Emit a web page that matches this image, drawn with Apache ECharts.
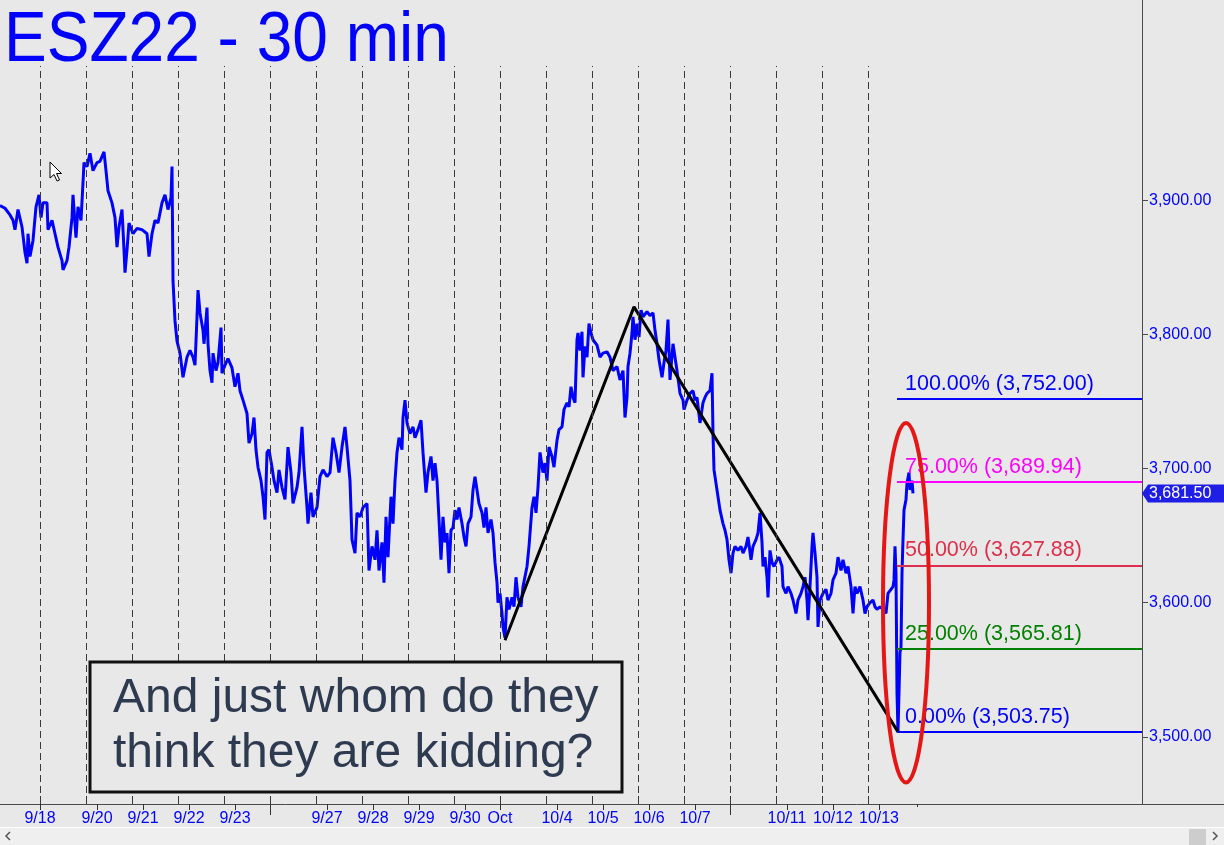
<!DOCTYPE html>
<html>
<head>
<meta charset="utf-8">
<script src="https://cdn.jsdelivr.net/npm/echarts@6/dist/echarts.min.js"></script>
<style>
html,body{margin:0;padding:0;background:#e8e8e8;}
#c{width:1224px;height:845px;}
</style>
</head>
<body>
<div id="c"></div>
<script>
// ---- Data (bar index = 30-min bar count from chart start, price) ----
const wk0918 = [[0,3896],[5,3894],[10,3889],[13,3885],[15,3878],[18,3893],[22,3880],[25,3861],[27,3853],[28,3875],[30,3858],[33,3870],[36,3895],[39,3904],[41,3887],[43,3898],[47,3898],[48,3878],[52,3885],[55,3875],[58,3865],[62,3855],[63,3848],[67,3855],[69,3865],[72,3887],[73,3904],[76,3872],[78,3895],[81,3885],[83,3913],[84,3928],[87,3925],[90,3935],[93,3922],[97,3928],[100,3929],[104,3936],[106,3922],[108,3907],[112,3898],[115,3887],[117,3865],[119,3880],[122,3893],[124,3863],[125,3846],[127,3863],[129,3883],[133,3875],[137,3879],[142,3878],[147,3875],[149,3858],[152,3875],[155,3885],[158,3883],[162,3898],[165,3904],[168,3893],[171,3902],[172,3925],[173,3840],[175,3810],[177,3795],[180,3786],[183,3768],[187,3783],[190,3788],[193,3783],[195,3777],[197,3813],[198,3833],[200,3816],[203,3803],[204,3793],[207,3820],[208,3793],[210,3773],[212,3764],[213,3786],[216,3773],[218,3779],[221,3805],[222,3771],[225,3777],[228,3782],[232,3775],[235,3761],[238,3771],[240,3758],[243,3751],[247,3741],[249,3719],[252,3726],[254,3738],[256,3714],[258,3701],[261,3691],[263,3679],[265,3662],[267,3712],[269,3714]];
const wk0925 = [[272,3701],[274,3691],[277,3682],[279,3699],[282,3686],[285,3677],[288,3716],[291,3697],[293,3674],[297,3686],[299,3697],[302,3731],[304,3701],[307,3671],[308,3659],[311,3682],[313,3664],[317,3671],[320,3694],[323,3699],[327,3694],[330,3697],[333,3723],[336,3712],[339,3697],[342,3716],[345,3731],[347,3716],[350,3691],[352,3647],[355,3637],[357,3667],[360,3664],[363,3671],[367,3674],[369,3624],[372,3642],[375,3632],[377,3654],[379,3624],[382,3645],[384,3615],[386,3664],[388,3634],[391,3679],[393,3659],[395,3691],[397,3712],[399,3723],[402,3714],[403,3738],[405,3751],[407,3734],[410,3726],[413,3731],[415,3723],[418,3729],[421,3736],[423,3712],[426,3682],[428,3697],[431,3709],[433,3691],[435,3704],[437,3691],[439,3662],[441,3632],[443,3664],[445,3645],[447,3652],[449,3622],[451,3654],[453,3656],[455,3669],[457,3662],[459,3671],[462,3659],[464,3649],[466,3642],[468,3659],[471,3664],[473,3684],[475,3694],[477,3684],[479,3674],[482,3667],[484,3656],[486,3671],[488,3652],[491,3662],[493,3652],[495,3630],[497,3615],[498,3600],[500,3607]];
const wk1002 = [[502,3592],[503,3582],[505,3574],[507,3604],[509,3595],[512,3604],[514,3597],[516,3619],[518,3604],[521,3597],[523,3612],[527,3627],[529,3642],[532,3671],[534,3679],[536,3667],[538,3686],[540,3712],[543,3697],[545,3704],[547,3691],[549,3716],[552,3709],[554,3701],[557,3721],[559,3729],[562,3731],[564,3744],[567,3749],[569,3746],[571,3761],[573,3753],[575,3749],[577,3796],[578,3801],[580,3788],[582,3802],[583,3768],[585,3791],[587,3783],[589,3808],[591,3801],[593,3796],[597,3792],[600,3783],[603,3786],[607,3787],[610,3783],[613,3773],[617,3776],[620,3766],[623,3773],[625,3738],[627,3753],[628,3776],[630,3786],[632,3801],[633,3813],[635,3796],[637,3808],[639,3798],[641,3818],[643,3813],[647,3817],[650,3814],[653,3816],[655,3803],[657,3793],[659,3781],[662,3768],[664,3779],[666,3788],[668,3811],[670,3766],[673,3793],[675,3783],[677,3773],[680,3756],[683,3751],[684,3744],[687,3751],[690,3756],[693,3758],[695,3751],[697,3753],[700,3734],[703,3749],[705,3753],[707,3756],[710,3758],[712,3771],[713,3726],[714,3699],[717,3684],[720,3669],[723,3659],[725,3654],[727,3647],[729,3632]];
const wk1009 = [[731,3622],[733,3637],[735,3642],[738,3639],[741,3642],[743,3637],[746,3642],[748,3649],[751,3632],[753,3642],[756,3647],[758,3652],[760,3667],[762,3645],[763,3627],[765,3634],[767,3619],[768,3604],[770,3639],[772,3630],[774,3627],[777,3632],[779,3634],[782,3627],[783,3612],[786,3607],[788,3612],[791,3607],[793,3602],[796,3592],[798,3602],[801,3607],[803,3612],[805,3619],[807,3602],[808,3587],[810,3612],[812,3642],[813,3652],[815,3637],[817,3619],[818,3582],[820,3602],[823,3607],[826,3610],[828,3602],[831,3607],[833,3617],[836,3622],[838,3634],[841,3624],[843,3632],[846,3622],[848,3627],[851,3612],[853,3592],[855,3612],[857,3607],[860,3612],[863,3602],[865,3592],[867,3597],[870,3600],[873,3602],[875,3597],[877,3595],[880,3597],[883,3595],[886,3592],[888,3607],[891,3610],[893,3612],[894,3617],[895,3642],[896,3622],[897,3533],[898,3503.75],[899,3533],[900,3563],[901,3567],[902,3622],[903,3647],[904,3669],[906,3677],[907,3689],[909,3697],[910,3684],[912,3691],[913,3681.5]];

// ABC trend line pivots
const trendPoints = [[505,3572],[634,3820.5],[898,3503.75]];

// Fibonacci levels
const fibPct = ['100.00%','75.00%','50.00%','25.00%','0.00%'];
const fibValues = [3752.00, 3689.94, 3627.88, 3565.81, 3503.75];
const fibStartBar = 897;

// Axis ticks / labels
const sessionStarts = [40.5,86.5,132.5,178.5,224.5,270.5,316.5,362.5,408.5,454.5,500.5,546.5,592.5,638.5,684.5,730.5,776.5,822.5,868.5];
const dateTickPos = [40,97,143,189,235,327,373,419,465,500,557,603,649,695,787,833,879];
const dateTickText = ['9/18','9/20','9/21','9/22','9/23','9/27','9/28','9/29','9/30','Oct','10/4','10/5','10/6','10/7','10/11','10/12','10/13'];
const weekendTicks = [270.5, 730.5];
const pendingTicks = [917];
const yTicks = [3500,3600,3700,3800,3900];

// ---- Styles ----
const FONT = '"Liberation Sans", Arial, sans-serif';
const BLUE = '#0000ff';
const fibColors = ['#0000ff','#ff00ff','#dc2f4a','#008000','#0000ff'];
const fmt = v => Number(v).toLocaleString('en-US',{minimumFractionDigits:2, maximumFractionDigits:2});
const price = [].concat(wk0918, wk0925, wk1002, wk1009);
const XMAX = 1142;

const chart = echarts.init(document.getElementById('c'), null, {renderer:'canvas'});

const baseX = {type:'value', min:0, max:XMAX, splitLine:{show:false}, axisLine:{show:false, onZero:false}, axisLabel:{show:false}, axisTick:{show:false}};

const option = {
  animation:false,
  backgroundColor:'#e8e8e8',
  grid:{left:0, right:82, top:66, bottom:41, containLabel:false, outerBoundsMode:'none'},
  xAxis:[
    Object.assign({}, baseX, {
      position:'bottom',
      axisLine:{show:true, onZero:false, lineStyle:{color:'#4a4a4a', width:1}},
      axisTick:{show:true, inside:true, length:8, customValues:sessionStarts, lineStyle:{color:'#333'}}
    }),
    Object.assign({}, baseX, {
      position:'bottom',
      axisTick:{show:true, length:6, customValues:dateTickPos, lineStyle:{color:'#333'}},
      axisLabel:{show:true, customValues:dateTickPos, hideOverlap:false,
        formatter: v => { const i = dateTickPos.indexOf(v); return i >= 0 ? dateTickText[i] : ''; },
        color:BLUE, fontSize:16, fontFamily:FONT, margin:7}
    }),
    Object.assign({}, baseX, {
      position:'bottom',
      axisTick:{show:true, length:11, customValues:weekendTicks, lineStyle:{color:'#333'}}
    }),
    Object.assign({}, baseX, {
      position:'bottom',
      axisTick:{show:true, length:3, customValues:pendingTicks, lineStyle:{color:'#333'}}
    })
  ],
  yAxis:{
    type:'value', position:'right', min:3450, max:4000, scale:true,
    splitLine:{show:false},
    axisLine:{show:true, onZero:false, lineStyle:{color:'#4a4a4a', width:1}},
    axisTick:{show:true, length:6, customValues:yTicks, lineStyle:{color:'#4a4a4a'}},
    axisLabel:{show:true, customValues:yTicks, formatter: v => fmt(v), color:BLUE, fontSize:16, fontFamily:FONT, margin:7, hideOverlap:false}
  },
  series:[
    {
      type:'line', data:[], z:1, silent:true,
      markLine:{silent:true, symbol:['none','none'], animation:false, label:{show:false},
        lineStyle:{type:[7,4], color:'#3a3a3a', width:1},
        emphasis:{disabled:true},
        data: sessionStarts.map(v => ({xAxis:v}))}
    },
    {
      type:'line', data:price, z:3, symbol:'none', showSymbol:false, silent:true,
      lineStyle:{color:BLUE, width:3}
    },
    {
      type:'line', data:trendPoints, z:4, symbol:'none', showSymbol:false, silent:true,
      lineStyle:{color:'#000', width:3}
    },
    {
      type:'line', data:[], z:5, silent:true,
      markLine:{silent:true, symbol:['none','none'], animation:false, emphasis:{disabled:true},
        data: fibValues.map((v,i) => [
          {coord:[fibStartBar, v], lineStyle:{color:fibColors[i], width:2, type:'solid'},
           label:{show:true, position:'insideStartTop', distance:[8,4], formatter: fibPct[i] + ' (' + fmt(v) + ')',
                  color:fibColors[i], fontSize:21.5, fontFamily:FONT}},
          {coord:[XMAX, v]}
        ])}
    }
  ]
};
chart.setOption(option);

// ---- annotations positioned through the chart's scales ----
const px = (x, y) => chart.convertToPixel({gridIndex:0}, [x, y]);
const ellC = px(906, 3600);
const ellTop = px(906, 3734);
const ellRight = px(929, 3600);
const ellRx = ellRight[0] - ellC[0], ellRy = ellC[1] - ellTop[1];
const lastBar = price[price.length - 1];
const lp = px(XMAX, lastBar[1]);
const tagY = Math.round(lp[1]) + 0.5;

chart.setOption({
  graphic:[
    {type:'text', x:4, y:7, scaleX:0.915, z:50, silent:true,
     style:{text:'ESZ22 - 30 min', fill:BLUE, fontSize:70, fontFamily:FONT, verticalAlign:'top', align:'left'}},
    {type:'line', z:40, silent:true, shape:{x1:1142.5, y1:0, x2:1142.5, y2:66}, style:{stroke:'#4a4a4a', lineWidth:1}},
    {type:'line', z:40, silent:true, shape:{x1:1142, y1:804.5, x2:1224, y2:804.5}, style:{stroke:'#4a4a4a', lineWidth:1}},
    {type:'rect', z:40, silent:true, shape:{x:0, y:828, width:1224, height:17}, style:{fill:'#efefef'}},
    {type:'rect', z:41, silent:true, shape:{x:0, y:827, width:1224, height:1}, style:{fill:'#ffffff'}},
    {type:'polyline', z:42, silent:true, shape:{points:[[10,832],[6,836],[10,840]]}, style:{stroke:'#555', lineWidth:1.5, fill:null}},
    {type:'polyline', z:42, silent:true, shape:{points:[[1213,832],[1217,836],[1213,840]]}, style:{stroke:'#555', lineWidth:1.5, fill:null}},
    {type:'rect', z:42, silent:true, shape:{x:1189, y:829, width:17, height:16}, style:{fill:'#cdcdcd'}},
    {type:'rect', z:60, silent:true, shape:{x:90, y:662, width:532, height:130}, style:{fill:'#e8e8e8', stroke:'#111', lineWidth:3}},
    {type:'text', x:113, y:699, z:61, silent:true,
     style:{text:'And just whom do they', fill:'#2e3a50', fontSize:48, fontFamily:FONT, verticalAlign:'middle', align:'left'}},
    {type:'text', x:113, y:754, z:61, silent:true,
     style:{text:'think they are kidding?', fill:'#2e3a50', fontSize:48, fontFamily:FONT, verticalAlign:'middle', align:'left'}},
    {type:'ellipse', z:70, silent:true, shape:{cx:ellC[0], cy:ellC[1], rx:ellRx, ry:ellRy}, style:{fill:null, stroke:'#e51616', lineWidth:4}},
    {type:'polygon', z:65, silent:true,
     shape:{points:[[1142, tagY],[1148, tagY-9],[1224, tagY-9],[1224, tagY+9],[1148, tagY+9]]}, style:{fill:'#1e1ee6'}},
    {type:'text', x:1149, y:tagY, z:66, silent:true,
     style:{text:fmt(lastBar[1]), fill:'#ffffff', fontSize:16, fontFamily:FONT, verticalAlign:'middle', align:'left'}},
    {type:'polygon', z:80, silent:true,
     shape:{points:[[50,162],[50,178],[54,174.5],[57,181],[59.5,180],[56.5,173.5],[61.5,173.5]]},
     style:{fill:'#ffffff', stroke:'#000000', lineWidth:1}}
  ]
});
</script>
</body>
</html>
